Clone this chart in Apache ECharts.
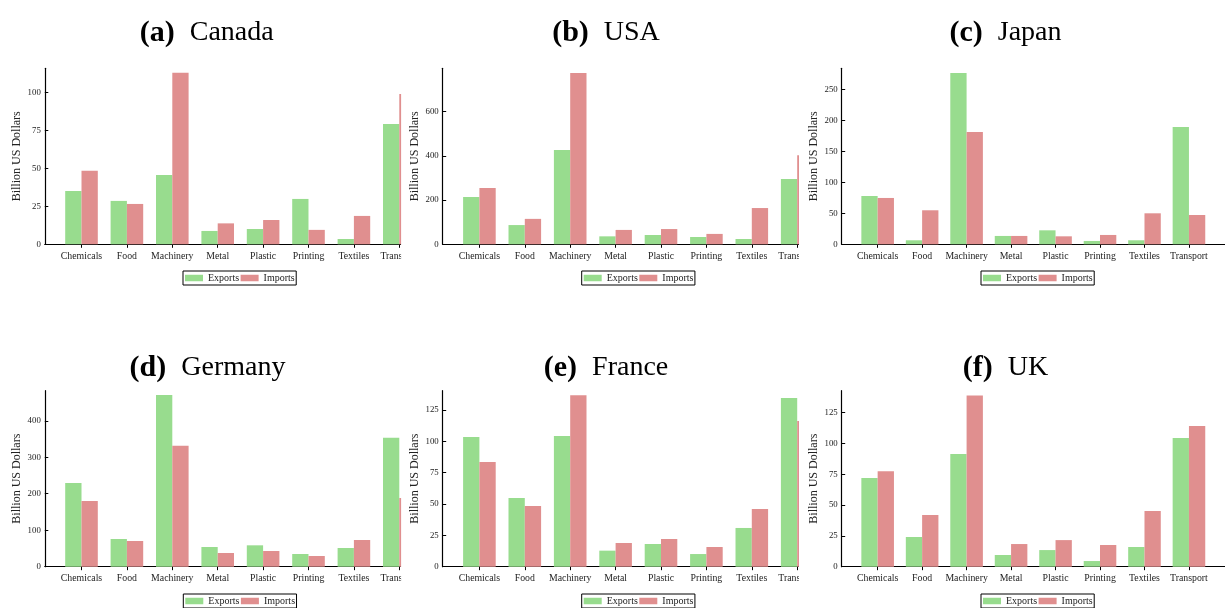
<!DOCTYPE html>
<html>
<head>
<meta charset="utf-8">
<script src="https://cdn.jsdelivr.net/npm/echarts@6/dist/echarts.min.js"></script>
<style>
  html, body { margin: 0; padding: 0; background: #ffffff; }
  #chart { width: 1225px; height: 608px; }
</style>
</head>
<body>
<div id="chart"></div>
<script>
// Trade by sector, billion US dollars
const categories = ['Chemicals', 'Food', 'Machinery', 'Metal', 'Plastic', 'Printing', 'Textiles', 'Transport'];
const countries = ['Canada', 'USA', 'Japan', 'Germany', 'France', 'UK'];
const panelTags = ['(a)', '(b)', '(c)', '(d)', '(e)', '(f)'];
const seriesNames = ['Exports', 'Imports'];

const canadaExports  = [35.2, 28.6, 45.7, 8.8, 10.1, 29.9, 3.5, 79.3];
const canadaImports  = [48.4, 26.6, 113.0, 13.8, 16.0, 9.5, 18.7, 99.1];
const usaExports     = [214, 87, 427, 36, 42, 33, 24, 295];
const usaImports     = [255, 115, 775, 65, 69, 47, 164, 403];
const japanExports   = [78.1, 6.5, 277, 13.5, 22.6, 5.4, 6.5, 189.7];
const japanImports   = [74.9, 55.0, 181.6, 13.5, 12.9, 15.1, 50.1, 47.4];
const germanyExports = [229.7, 76, 470.5, 54, 58.6, 34.8, 51.3, 353.3];
const germanyImports = [180.3, 70.5, 331.4, 37.5, 43, 29.3, 73.2, 188.6];
const franceExports  = [103.5, 54.8, 104.3, 12.8, 18.1, 10.1, 30.9, 134.6];
const franceImports  = [83.5, 48.4, 136.7, 18.9, 22.1, 15.7, 46.0, 116.2];
const ukExports      = [72.0, 24.1, 91.5, 9.5, 13.5, 4.6, 16.0, 104.4];
const ukImports      = [77.4, 41.9, 139.1, 18.4, 21.6, 17.6, 45.2, 114.2];

const yAxisMax = [116, 796, 284.5, 482.4, 140.4, 142.9];
const yTickValues = [
  [0, 25, 50, 75, 100],
  [0, 200, 400, 600],
  [0, 50, 100, 150, 200, 250],
  [0, 100, 200, 300, 400],
  [0, 25, 50, 75, 100, 125],
  [0, 25, 50, 75, 100, 125]
];

const exportsByPanel = [canadaExports, usaExports, japanExports, germanyExports, franceExports, ukExports];
const importsByPanel = [canadaImports, usaImports, japanImports, germanyImports, franceImports, ukImports];

// ---- layout ----
const SERIF = '"Liberation Serif", "DejaVu Serif", serif';
const GREEN = '#98dc8e';
const RED = '#e08f8f';
const colLeft = [44.8, 442.7, 841.7];
const rowTop = [68.3, 390.7];
const plotHeight = 176;
const catStep = 45.4;          // px between category centres
const firstOffset = 36.7;      // px from y axis to first category centre
const fullWidth = 391.3;       // full axes width
const clippedWidth = 356.3;    // visible width where the next panel overlaps
const titleX = [201.7, 601, 1000.5, 202.5, 601, 1000.5];
const titleTop = [13, 348];
const legendLeft = [183, 581.7, 981, 183.3, 581.7, 981];
const legendTop = [271, 594];

const catIndex = categories.map((c, i) => i);

const grid = [], xAxis = [], yAxis = [], series = [], title = [], legend = [], graphic = [];

for (let p = 0; p < 6; p++) {
  const col = p % 3, row = Math.floor(p / 3);
  const isLastCol = col === 2;
  const width = isLastCol ? fullWidth : clippedWidth;
  const xMin = -firstOffset / catStep;
  const xMax = xMin + width / catStep;

  grid.push({ left: colLeft[col], top: rowTop[row], width: width, height: plotHeight, containLabel: false });

  xAxis.push({
    type: 'value', gridIndex: p, min: xMin, max: xMax,
    axisLine: { show: true, onZero: false, lineStyle: { color: '#000', width: 1.2 } },
    axisTick: { show: true, inside: false, length: 3.5, customValues: catIndex, lineStyle: { color: '#000', width: 1 } },
    axisLabel: {
      customValues: catIndex, margin: 7,
      formatter: v => categories[Math.round(v)],
      fontFamily: SERIF, fontSize: 9.8, color: '#222'
    },
    splitLine: { show: false }
  });

  yAxis.push({
    type: 'value', gridIndex: p, min: 0, max: yAxisMax[p], z: 10,
    axisLine: { show: true, onZero: false, lineStyle: { color: '#000', width: 1.2 } },
    axisTick: { show: true, inside: true, length: 3.5, customValues: yTickValues[p], lineStyle: { color: '#000', width: 1 } },
    axisLabel: { customValues: yTickValues[p], margin: 4, fontFamily: SERIF, fontSize: 8.8, color: '#222' },
    splitLine: { show: false },
    name: 'Billion US Dollars', nameLocation: 'middle', nameGap: 22,
    nameTextStyle: { fontFamily: SERIF, fontSize: 12, color: '#222' }
  });

  [exportsByPanel[p], importsByPanel[p]].forEach((vals, k) => {
    series.push({
      type: 'bar', name: seriesNames[k], xAxisIndex: p, yAxisIndex: p,
      data: vals.map((v, i) => [i, v]),
      barWidth: 16.3, barGap: '0%',
      itemStyle: { color: k === 0 ? GREEN : RED },
      emphasis: { disabled: true },
      clip: true
    });
  });

  title.push({
    text: '{b|' + panelTags[p] + '}{s| }{r|' + countries[p] + '}',
    left: titleX[p], top: titleTop[row], textAlign: 'center',
    textStyle: {
      fontWeight: 'normal',
      rich: {
        b: { fontFamily: SERIF, fontSize: 30, fontWeight: 'bold', color: '#000' },
        s: { fontFamily: SERIF, fontSize: 28, fontWeight: 'normal', width: 15 },
        r: { fontFamily: SERIF, fontSize: 28, fontWeight: 'normal', color: '#000' }
      }
    }
  });

  legend.push({
    data: seriesNames, left: legendLeft[p], top: legendTop[row],
    orient: 'horizontal', icon: 'rect', itemWidth: 18, itemHeight: 6.5, itemGap: 1.5,
    padding: [2, 1.5, 2, 2], borderColor: '#000', borderWidth: 1, borderRadius: 0,
    backgroundColor: '#fff',
    textStyle: { fontFamily: SERIF, fontSize: 10, color: '#222' },
    selectedMode: false
  });

  // the neighbouring panel sits on top of the overflowing right edge
  if (!isLastCol) {
    const coverX = colLeft[col] + width;
    graphic.push({
      type: 'rect', z: 5,
      shape: { x: coverX, y: rowTop[row] - 12, width: colLeft[col + 1] - coverX - 1.5, height: plotHeight + 40 },
      style: { fill: '#fff' }
    });
  }
}

const chart = echarts.init(document.getElementById('chart'), null, { renderer: 'canvas' });
chart.setOption({
  backgroundColor: '#ffffff',
  animation: false,
  title, legend, grid, xAxis, yAxis, series, graphic
});
</script>
</body>
</html>
